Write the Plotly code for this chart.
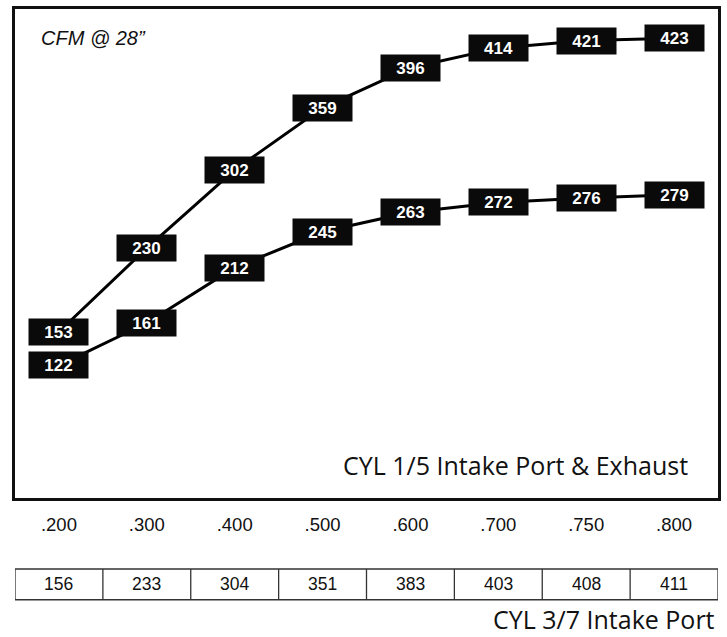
import plotly.graph_objects as go

# Valve lift points (inches) and measured airflow (CFM @ 28")
lift = [".200", ".300", ".400", ".500", ".600", ".700", ".750", ".800"]
cyl15_intake = [153, 230, 302, 359, 396, 414, 421, 423]
cyl15_exhaust = [122, 161, 212, 245, 263, 272, 276, 279]
cyl37_intake = [156, 233, 304, 351, 383, 403, 408, 411]

W, H = 727, 637
PLOT_LEFT, PLOT_WIDTH = 14.5, 704.0
PLOT_TOP, PLOT_BOTTOM = 5.5, 498.0


def px_to_paper(px):
    return (px - PLOT_LEFT) / PLOT_WIDTH


def py_to_paper(py):
    """Convert a pixel row (from the top of the page) to paper y."""
    return (PLOT_BOTTOM - py) / (PLOT_BOTTOM - PLOT_TOP)


fig = go.Figure()

for series in (cyl15_intake, cyl15_exhaust):
    fig.add_trace(go.Scatter(
        x=lift, y=series, mode="lines",
        line=dict(color="black", width=3),
        hoverinfo="skip", showlegend=False,
    ))

annotations = []

# Black value tags on every flow point (category index as x position)
for series in (cyl15_intake, cyl15_exhaust):
    for i, v in enumerate(series):
        annotations.append(dict(
            x=i, y=v, xref="x", yref="y", text=f"<b>{v}</b>",
            showarrow=False, bgcolor="#0a0a0a", width=55, height=22,
            borderpad=2, font=dict(family="Liberation Sans, Arial", size=17, color="white"),
        ))

annotations.append(dict(
    x=px_to_paper(39), y=py_to_paper(35), xref="paper", yref="paper",
    text="<i>CFM @ 28\u201d</i>", showarrow=False, xanchor="left", yanchor="middle",
    font=dict(family="Liberation Sans, Arial", size=20, color="#111"),
))

annotations.append(dict(
    x=px_to_paper(690), y=py_to_paper(465), xref="paper", yref="paper",
    text="CYL 1/5 Intake Port &amp; Exhaust", showarrow=False,
    xanchor="right", yanchor="middle",
    font=dict(family="Open Sans, Noto Sans", size=25, color="#111"),
))

# Table row of CYL 3/7 intake flow, aligned with lift columns
tbl_top, tbl_bot = py_to_paper(569.5), py_to_paper(600.5)
shapes = [dict(
    type="rect", xref="x", yref="paper", x0=-0.5, x1=7.5, y0=tbl_bot, y1=tbl_top,
    line=dict(color="#333", width=1.3), layer="above",
)]
for i in range(len(lift) - 1):
    shapes.append(dict(
        type="line", xref="x", yref="paper", x0=i + 0.5, x1=i + 0.5,
        y0=tbl_bot, y1=tbl_top, line=dict(color="#333", width=1.3),
    ))
for i, v in enumerate(cyl37_intake):
    annotations.append(dict(
        x=i, y=(tbl_top + tbl_bot) / 2, xref="x", yref="paper", text=str(v),
        showarrow=False, yanchor="middle",
        font=dict(family="Liberation Sans, Arial", size=17.5, color="#111"),
    ))

annotations.append(dict(
    x=px_to_paper(717), y=py_to_paper(620), xref="paper", yref="paper",
    text="CYL 3/7 Intake Port", showarrow=False,
    xanchor="right", yanchor="middle",
    font=dict(family="Open Sans, Noto Sans", size=25, color="#111"),
))

fig.update_layout(
    width=W, height=H,
    margin=dict(l=14.5, r=8.5, t=5.5, b=139),
    paper_bgcolor="white", plot_bgcolor="white",
    xaxis=dict(
        type="category", categoryorder="array", categoryarray=lift,
        range=[-0.5, 7.5], showgrid=False, zeroline=False,
        showline=True, mirror=True, linecolor="#111", linewidth=3,
        ticks="", ticklabelstandoff=8,
        tickfont=dict(family="Liberation Sans, Arial", size=18.5, color="#111"),
    ),
    yaxis=dict(
        range=[0, 450], showgrid=False, zeroline=False, showticklabels=False,
        showline=True, mirror=True, linecolor="#111", linewidth=3, ticks="",
    ),
    shapes=shapes, annotations=annotations,
)

fig.write_html("out.html")
